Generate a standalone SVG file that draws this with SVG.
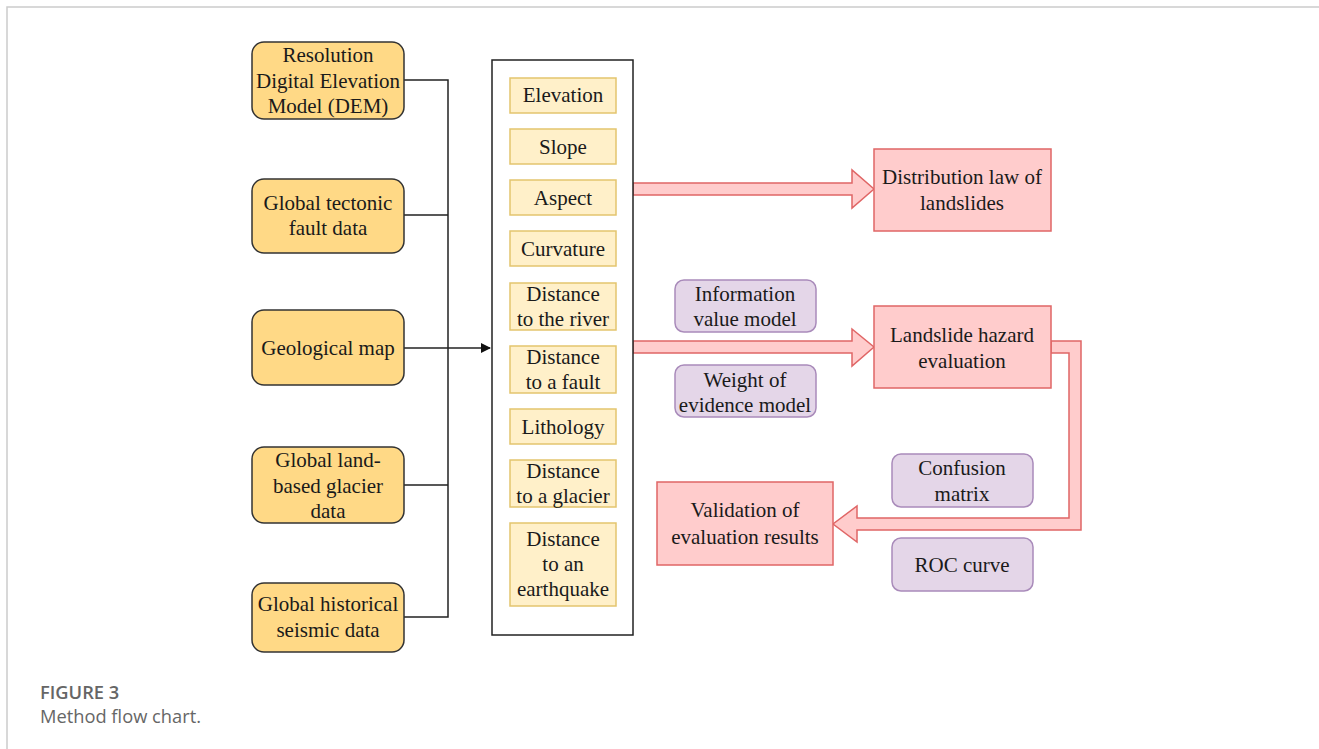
<svg xmlns="http://www.w3.org/2000/svg" width="1319" height="749" viewBox="0 0 1319 749">
<style>
.t text{font-family:'Liberation Serif','DejaVu Serif',serif;font-size:21px;fill:#1a1a1a;text-anchor:middle;dominant-baseline:central}
.src{fill:#FFD986;stroke:#333;stroke-width:1.5}
.fac{fill:#FFF0C9;stroke:#E3C56E;stroke-width:1.5}
.res{fill:#FFCCCC;stroke:#E06666;stroke-width:1.5}
.mod{fill:#E4D6E8;stroke:#A98BBA;stroke-width:1.5}
.ln{fill:none;stroke:#222;stroke-width:1.5}
.blk{fill:#FFCCCC;stroke:#E06666;stroke-width:1.5}
.cap{font-family:'Open Sans','Noto Sans',sans-serif;font-size:18.3px;fill:#666}
</style>
<defs>
<marker id="ah" markerWidth="10" markerHeight="10" refX="9" refY="5" orient="auto" markerUnits="userSpaceOnUse">
<path d="M0,0 L10,5 L0,10 z" fill="#111"/>
</marker>
</defs>
<rect width="1319" height="749" fill="#fff"/>
<path d="M7,749 V7 H1319" fill="none" stroke="#ccc" stroke-width="1.5"/>

<g id="connectors">
<path class="ln" d="M404,80 H448 V617 H404 M404,215 H448 M404,485 H448"/>
<path class="ln" d="M404,348 H490" marker-end="url(#ah)"/>
<path class="blk" d="M633,183 H852 V170 L874,189 L852,208 V195 H633 Z"/>
<path class="blk" d="M633,341 H852 V329 L874,347 L852,366 V353 H633 Z"/>
<path class="blk" d="M1051,341 H1081 V530 H857 V542 L833,524 L857,506 V518 H1069 V353 H1051 Z"/>
</g>

<g class="t" font-family="Liberation Serif, DejaVu Serif, serif">
<g id="dem"><rect class="src" x="252" y="42" width="152" height="77" rx="12"/>
<text x="328" y="55">Resolution</text><text x="328" y="81">Digital Elevation</text><text x="328" y="106">Model (DEM)</text></g>
<g id="fault"><rect class="src" x="252" y="179" width="152" height="74" rx="12"/>
<text x="328" y="203">Global tectonic</text><text x="328" y="228">fault data</text></g>
<g id="geomap"><rect class="src" x="252" y="310" width="152" height="75" rx="12"/>
<text x="328" y="348">Geological map</text></g>
<g id="glacier"><rect class="src" x="252" y="447" width="152" height="76" rx="12"/>
<text x="328" y="460">Global land-</text><text x="328" y="486">based glacier</text><text x="328" y="511">data</text></g>
<g id="seismic"><rect class="src" x="252" y="583" width="152" height="69" rx="12"/>
<text x="328" y="604">Global historical</text><text x="328" y="630">seismic data</text></g>

<g id="factors">
<rect x="492" y="60" width="141" height="575" fill="#fff" stroke="#222" stroke-width="1.5"/>
<g id="f-elev"><rect class="fac" x="510" y="78" width="106" height="35"/><text x="563" y="95">Elevation</text></g>
<g id="f-slope"><rect class="fac" x="510" y="129" width="106" height="35"/><text x="563" y="147">Slope</text></g>
<g id="f-aspect"><rect class="fac" x="510" y="180" width="106" height="35"/><text x="563" y="198">Aspect</text></g>
<g id="f-curv"><rect class="fac" x="510" y="231" width="106" height="35"/><text x="563" y="249">Curvature</text></g>
<g id="f-river"><rect class="fac" x="510" y="283" width="106" height="47"/><text x="563" y="294">Distance</text><text x="563" y="319">to the river</text></g>
<g id="f-fault"><rect class="fac" x="510" y="346" width="106" height="47"/><text x="563" y="357">Distance</text><text x="563" y="382">to a fault</text></g>
<g id="f-lith"><rect class="fac" x="510" y="409" width="106" height="35"/><text x="563" y="427">Lithology</text></g>
<g id="f-glac"><rect class="fac" x="510" y="460" width="106" height="47"/><text x="563" y="471">Distance</text><text x="563" y="496">to a glacier</text></g>
<g id="f-eq"><rect class="fac" x="510" y="523" width="106" height="83"/><text x="563" y="539">Distance</text><text x="563" y="564">to an</text><text x="563" y="589">earthquake</text></g>
</g>

<g id="distlaw"><rect class="res" x="874" y="149" width="177" height="82"/>
<text x="962" y="177">Distribution law of</text><text x="962" y="203">landslides</text></g>
<g id="hazard"><rect class="res" x="874" y="306" width="177" height="82"/>
<text x="962" y="335">Landslide hazard</text><text x="962" y="361">evaluation</text></g>
<g id="validation"><rect class="res" x="657" y="482" width="176" height="83"/>
<text x="745" y="510">Validation of</text><text x="745" y="537">evaluation results</text></g>

<g id="infomodel"><rect class="mod" x="675" y="280" width="141" height="52" rx="9"/>
<text x="745" y="294">Information</text><text x="745" y="319">value model</text></g>
<g id="woe"><rect class="mod" x="675" y="365" width="141" height="52" rx="9"/>
<text x="745" y="380">Weight of</text><text x="745" y="405">evidence model</text></g>
<g id="confusion"><rect class="mod" x="892" y="454" width="141" height="53" rx="9"/>
<text x="962" y="468">Confusion</text><text x="962" y="494">matrix</text></g>
<g id="roc"><rect class="mod" x="892" y="538" width="141" height="53" rx="9"/>
<text x="962" y="565">ROC curve</text></g>
</g>

<g id="caption">
<text class="cap" x="40" y="699" font-weight="600">FIGURE 3</text>
<text class="cap" x="40" y="723">Method flow chart.</text>
</g>
</svg>
